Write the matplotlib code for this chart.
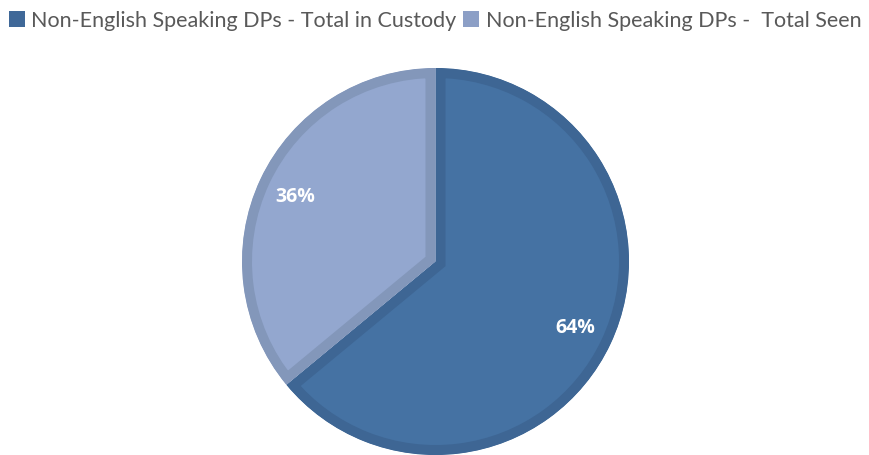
import matplotlib
matplotlib.use("Agg")
import matplotlib.pyplot as plt
from matplotlib.patches import Patch

# data
labels = ["Non-English Speaking DPs - Total in Custody",
          "Non-English Speaking DPs -  Total Seen"]
shares = [64, 36]

face_colors = ["#4572A3", "#93A7CF"]
edge_colors = ["#3E6694", "#8397BA"]
legend_colors = ["#3F6898", "#8C9FC6"]

fig = plt.figure(figsize=(8.7, 4.56), dpi=100)
ax = fig.add_axes([242 / 870, 0, 387 / 870, 387 / 456])

wedges, _, autotexts = ax.pie(
    shares, startangle=90, counterclock=False, radius=1,
    colors=face_colors, autopct="%.0f%%", pctdistance=0.8,
    wedgeprops=dict(linewidth=14.4), textprops=dict(color="white"))

# inner-only edge band: clip each wedge's thick edge to the wedge itself
for w, ec in zip(wedges, edge_colors):
    w.set_edgecolor(ec)
    w.set_clip_on(True)
    w.set_clip_path(w)

for t in autotexts:
    t.set_fontfamily("Open Sans")
    t.set_fontweight("bold")
    t.set_fontsize(14)

ax.set_xlim(-1, 1)
ax.set_ylim(-1, 1)
ax.set_aspect("equal")
ax.axis("off")

handles = [Patch(facecolor=c, edgecolor="none") for c in legend_colors]
fig.legend(handles, labels, loc="upper center", bbox_to_anchor=(0.5, 1.018),
           ncol=2, frameon=False, handlelength=0.75, handleheight=0.75,
           handletextpad=0.3, columnspacing=0.3,
           prop=dict(family="Lato", size=15.5), labelcolor="#595959")

fig.savefig("out.png", dpi=100)
